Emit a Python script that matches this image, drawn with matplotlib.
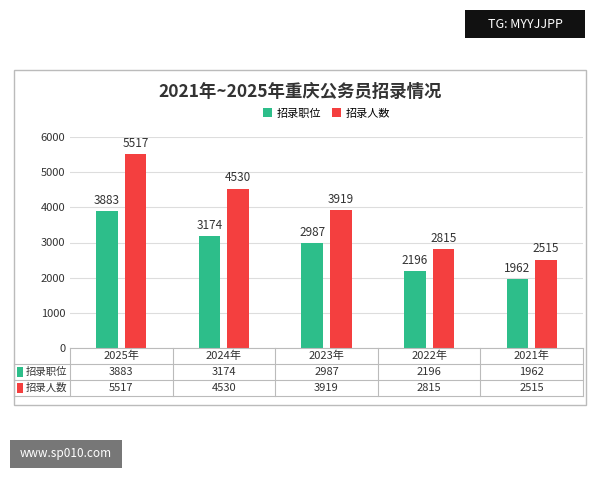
import matplotlib
matplotlib.use("Agg")
import matplotlib.pyplot as plt
from matplotlib.patches import Rectangle
import matplotlib.transforms as mtrans
from matplotlib import font_manager

cands = ["Noto Sans CJK SC", "Noto Sans CJK JP", "Noto Sans CJK TC", "Noto Sans CJK KR"]
avail = {f.name for f in font_manager.fontManager.ttflist}
fams = [c for c in cands if c in avail] + ["DejaVu Sans"]
plt.rcParams['font.family'] = fams

categories = ["2025年", "2024年", "2023年", "2022年", "2021年"]
positions = [3883, 3174, 2987, 2196, 1962]
people = [5517, 4530, 3919, 2815, 2515]
series_names = ["招录职位", "招录人数"]
title = "2021年~2025年重庆公务员招录情况"
GREEN = "#2DBE8A"
RED = "#F43F3F"

fig = plt.figure(figsize=(6, 4.8), dpi=100)
fig.patch.set_facecolor("white")
fig.add_artist(Rectangle((14/600, 1-405/480), 572/600, 335/480, transform=fig.transFigure,
                         fill=False, ec="#bbbbbb", lw=1))
fig.add_artist(Rectangle((465/600, 1-38/480), 120/600, 28/480, transform=fig.transFigure,
                         fc="#111111", ec="none"))
fig.text(525/600, 1-24/480, "TG: MYYJJPP", color="white", ha="center", va="center", fontsize=9)
fig.add_artist(Rectangle((10/600, 1-468/480), 112/600, 28/480, transform=fig.transFigure,
                         fc="#777777", ec="none"))
fig.text(66/600, 1-454/480, "www.sp010.com", color="white", ha="center", va="center", fontsize=8.5)

fig.text(0.5, 1-92/480, title, ha="center", va="center", fontsize=12.5, fontweight="bold", color="#333333")

ax = fig.add_axes([70/600, 1-348/480, 513/600, 211/480])
x = list(range(len(categories)))
w = 0.21
ax.bar([i-0.14 for i in x], positions, w, color=GREEN, label=series_names[0])
ax.bar([i+0.14 for i in x], people, w, color=RED, label=series_names[1])
for i in x:
    ax.text(i-0.14, positions[i]+120, str(positions[i]), ha="center", va="bottom", fontsize=8.5, color="#333")
    ax.text(i+0.14, people[i]+120, str(people[i]), ha="center", va="bottom", fontsize=8.5, color="#333")
ax.set_xlim(-0.5, 4.5)
ax.set_ylim(0, 6000)
ax.set_yticks(range(0, 6001, 1000))
ax.tick_params(axis="y", length=0, labelsize=8, labelcolor="#333")
ax.set_xticks([])
ax.grid(axis="y", color="#dddddd", lw=0.8)
ax.set_axisbelow(True)
for s in ax.spines.values():
    s.set_visible(False)
ax.legend(loc="lower center", bbox_to_anchor=(0.5, 1.04), ncol=2, frameon=False, fontsize=8,
          handlelength=0.8, handleheight=0.8, columnspacing=1.0, handletextpad=0.4)

tr = mtrans.blended_transform_factory(ax.transData, ax.transAxes)
rh = 16/211
left = -0.5 - 56/102.6
lc = "#bbbbbb"
for r in range(4):
    ax.plot([left if r > 0 else -0.5, 4.5], [-r*rh]*2, transform=tr, color=lc, lw=0.8, clip_on=False)
for xv in [left] + [i-0.5 for i in range(6)]:
    top = 0 if xv >= -0.5 else -rh
    ax.plot([xv, xv], [top, -3*rh], transform=tr, color=lc, lw=0.8, clip_on=False)
for i, c in enumerate(categories):
    ax.text(i, -0.5*rh, c, transform=tr, ha="center", va="center", fontsize=8, color="#333")
    ax.text(i, -1.5*rh, str(positions[i]), transform=tr, ha="center", va="center", fontsize=8, color="#333")
    ax.text(i, -2.5*rh, str(people[i]), transform=tr, ha="center", va="center", fontsize=8, color="#333")
for r, (nm, col) in enumerate(zip(series_names, [GREEN, RED])):
    yc = -(1.5+r)*rh
    ax.add_patch(Rectangle((left+0.03, yc-0.022), 0.06, 0.044, transform=tr, fc=col, ec="none", clip_on=False))
    ax.text(left+0.11, yc, nm, transform=tr, ha="left", va="center", fontsize=7.5, color="#333")

fig.savefig("out.png", dpi=100)
